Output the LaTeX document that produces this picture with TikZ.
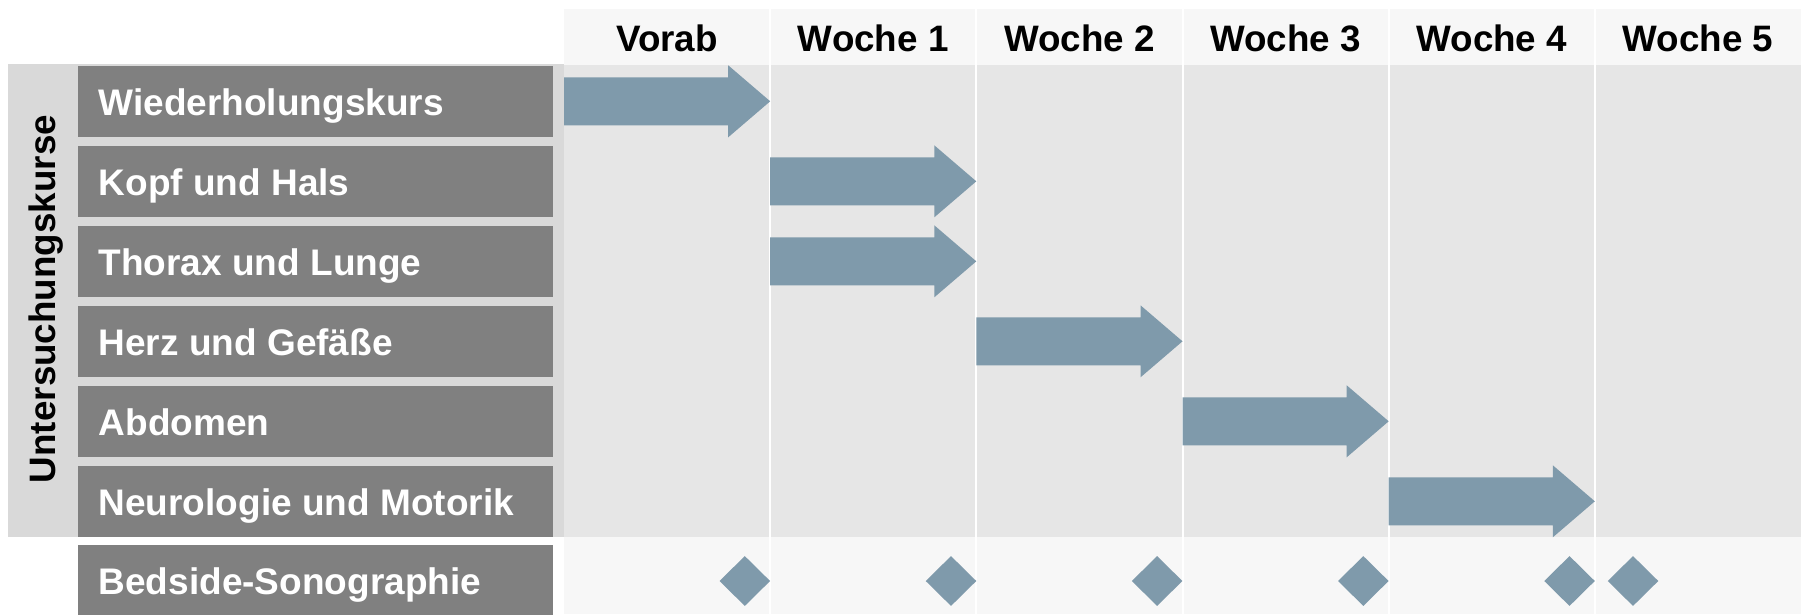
\documentclass[tikz,border=0pt]{standalone}
\usepackage{fontspec}
\setmainfont{Liberation Sans}
\usetikzlibrary{shapes.geometric}
\definecolor{bandgray}{HTML}{D9D9D9}
\definecolor{chartgray}{HTML}{E6E6E6}
\definecolor{headgray}{HTML}{F7F7F7}
\definecolor{boxgray}{HTML}{808080}
\definecolor{arrowblue}{HTML}{7F9AAB}
\newcommand{\ganttarrow}[3]{%
  \fill[arrowblue] (#1,#3-24) -- (#2-42,#3-24) -- (#2-42,#3-36) -- (#2,#3)
    -- (#2-42,#3+36) -- (#2-42,#3+24) -- (#1,#3+24) -- cycle;}
\begin{document}
\begin{tikzpicture}[x=1pt,y=-1pt,
  lbox/.style={fill=boxgray,draw=none,minimum width=475pt,minimum height=70.7pt,inner sep=0pt,anchor=north west},
  ltext/.style={text=white,font=\bfseries\fontsize{37}{40}\selectfont,inner sep=0pt,anchor=base west},
  htext/.style={text=black,font=\bfseries\fontsize{36.8}{40}\selectfont,inner sep=0pt,anchor=base},
  dia/.style={diamond,fill=arrowblue,draw=none,inner sep=0pt,minimum width=50.7pt,minimum height=50pt}]
\useasboundingbox (0,0) rectangle (1806,614);
\fill[white] (0,0) rectangle (1806,614);
% backgrounds
\fill[bandgray] (7.7,64.3) rectangle (564,537);
\fill[headgray] (564,9.3) rectangle (1801,65);
\fill[chartgray] (564,65) rectangle (1801,537);
\fill[headgray] (564,537) rectangle (1801,614);
% column separators
\foreach \i in {1,...,5} {
  \draw[white,line width=2pt] ({564+206.17*\i},9.3) -- ({564+206.17*\i},614);
}
% headers
\node[htext] (h0) at ({564+206.17*0.5},51) {Vorab};
\node[htext] (h1) at ({564+206.17*1.5},51) {Woche 1};
\node[htext] (h2) at ({564+206.17*2.5},51) {Woche 2};
\node[htext] (h3) at ({564+206.17*3.5},51) {Woche 3};
\node[htext] (h4) at ({564+206.17*4.5},51) {Woche 4};
\node[htext] (h5) at ({564+206.17*5.5},51) {Woche 5};
% vertical label
\node[text=black,font=\bfseries\fontsize{36.8}{40}\selectfont,inner sep=0pt,rotate=90,anchor=base] (uk) at (55,299) {Untersuchungskurse};
% row label boxes
\node[lbox] (b0) at (78,66) {};
\node[lbox] (b1) at (78,146) {};
\node[lbox] (b2) at (78,226) {};
\node[lbox] (b3) at (78,306) {};
\node[lbox] (b4) at (78,386) {};
\node[lbox] (b5) at (78,466) {};
\node[lbox] (b6) at (78,545) {};
\node[ltext] (t0) at (98.5,115) {Wiederholungskurs};
\node[ltext] (t1) at (98.5,195) {Kopf und Hals};
\node[ltext] (t2) at (98.5,275) {Thorax und Lunge};
\node[ltext] (t3) at (98.5,355) {Herz und Gefäße};
\node[ltext] (t4) at (98.5,435) {Abdomen};
\node[ltext] (t5) at (98.5,515) {Neurologie und Motorik};
\node[ltext] (t6) at (98.5,594) {Bedside-Sonographie};
% arrows
\ganttarrow{564}{770.2}{101.3}
\ganttarrow{770.2}{976.3}{181.3}
\ganttarrow{770.2}{976.3}{261.3}
\ganttarrow{976.3}{1182.5}{341.3}
\ganttarrow{1182.5}{1388.7}{421.3}
\ganttarrow{1388.7}{1594.8}{501.3}
% diamonds
\node[dia] (d1) at (744.8,581) {};
\node[dia] (d2) at (951,581) {};
\node[dia] (d3) at (1157.1,581) {};
\node[dia] (d4) at (1363.3,581) {};
\node[dia] (d5) at (1569.5,581) {};
\node[dia] (d6) at (1633,581) {};
\end{tikzpicture}
\end{document}
